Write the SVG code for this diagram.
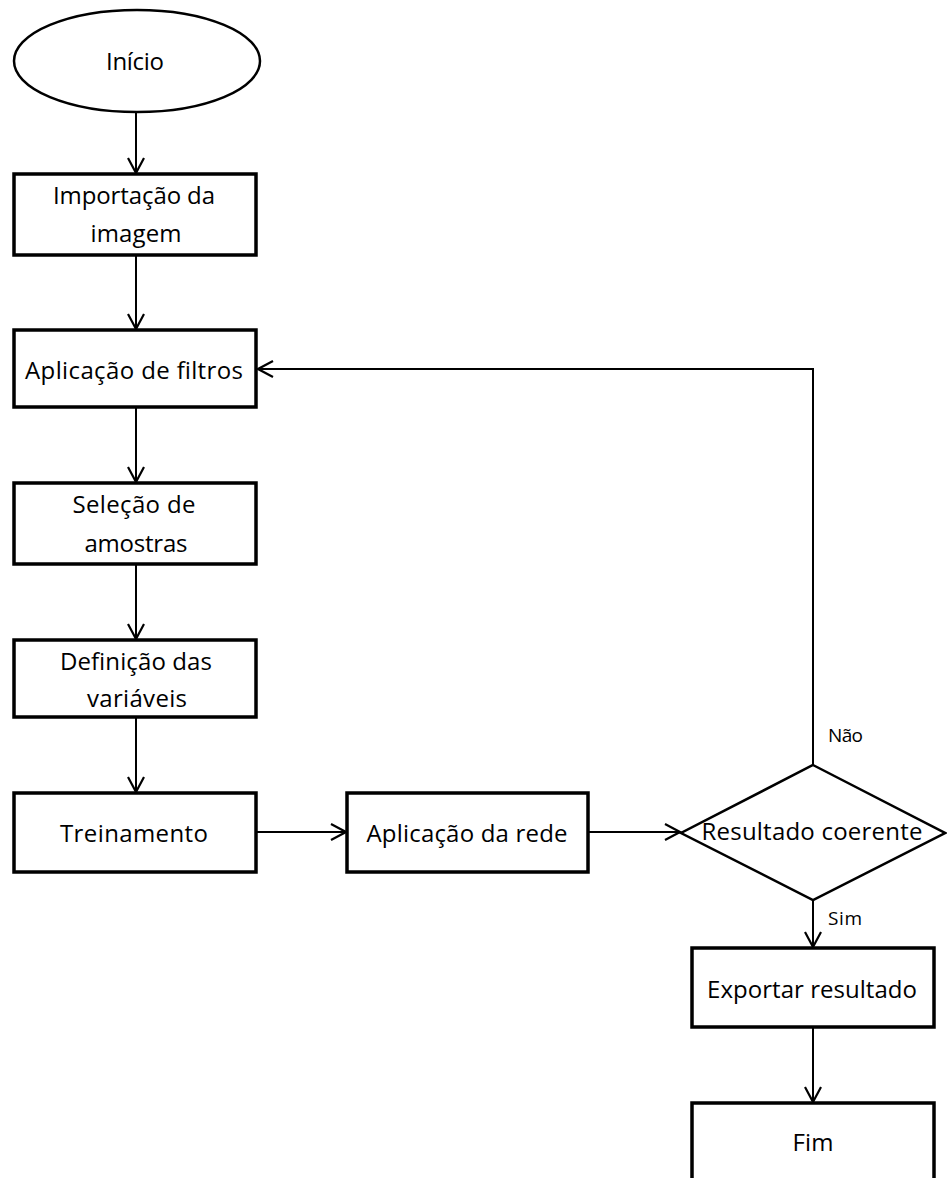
<svg xmlns="http://www.w3.org/2000/svg" width="947" height="1178" viewBox="0 0 947 1178">
<style>
.box{fill:#fff;stroke:#000;stroke-width:3.5}
.shape{fill:#fff;stroke:#000;stroke-width:2.5}
.t{font-family:"Open Sans","Liberation Sans",sans-serif;font-size:24px;fill:#000;text-anchor:middle}
.lbl{font-family:"Open Sans","Liberation Sans",sans-serif;font-size:19px;fill:#000}
.c{fill:none;stroke:#000;stroke-width:2}
</style>
<defs>
<marker id="arr" markerUnits="userSpaceOnUse" viewBox="-17 -10 19 20" refX="0" refY="0" markerWidth="19" markerHeight="20" orient="auto">
<path d="M-15,-8 L0,0 L-15,8" fill="none" stroke="#000" stroke-width="2.2"/>
</marker>
</defs>
<g id="connectors">
<path class="c" d="M136,112 V173" marker-end="url(#arr)"/>
<path class="c" d="M136,256 V329" marker-end="url(#arr)"/>
<path class="c" d="M136,408 V482" marker-end="url(#arr)"/>
<path class="c" d="M136,565 V639" marker-end="url(#arr)"/>
<path class="c" d="M136,718 V792" marker-end="url(#arr)"/>
<path class="c" d="M257,832 H346" marker-end="url(#arr)"/>
<path class="c" d="M589,832 H680" marker-end="url(#arr)"/>
<path class="c" d="M813,765 V369 H258" marker-end="url(#arr)"/>
<path class="c" d="M813,900 V947" marker-end="url(#arr)"/>
<path class="c" d="M813,1028 V1102" marker-end="url(#arr)"/>
</g>
<g id="inicio">
<ellipse class="shape" cx="137" cy="61" rx="123" ry="51"/>
<text class="t" x="135" y="70" textLength="58">Início</text>
</g>
<g id="importacao">
<rect class="box" x="14" y="174" width="242" height="81"/>
<text class="t" x="134" y="204" textLength="162">Importação da</text>
<text class="t" x="136" y="242" textLength="91">imagem</text>
</g>
<g id="filtros">
<rect class="box" x="14" y="330" width="242" height="77"/>
<text class="t" x="134" y="379" textLength="218">Aplicação de filtros</text>
</g>
<g id="selecao">
<rect class="box" x="14" y="483" width="242" height="81"/>
<text class="t" x="134" y="513" textLength="123">Seleção de</text>
<text class="t" x="136" y="552" textLength="103">amostras</text>
</g>
<g id="definicao">
<rect class="box" x="14" y="640" width="242" height="77"/>
<text class="t" x="136" y="670" textLength="152">Definição das</text>
<text class="t" x="137" y="707" textLength="100">variáveis</text>
</g>
<g id="treinamento">
<rect class="box" x="14" y="793" width="242" height="79"/>
<text class="t" x="134" y="842" textLength="148">Treinamento</text>
</g>
<g id="aplicacao-rede">
<rect class="box" x="347" y="793" width="241" height="79"/>
<text class="t" x="467" y="842" textLength="201">Aplicação da rede</text>
</g>
<g id="decisao">
<polygon class="shape" points="813,765 945,833 813,900 681,833"/>
<text class="t" x="812" y="840" textLength="221">Resultado coerente</text>
<text class="lbl" x="828" y="742" textLength="35">Não</text>
<text class="lbl" x="828" y="925" textLength="34">Sim</text>
</g>
<g id="exportar">
<rect class="box" x="692" y="948" width="242" height="79"/>
<text class="t" x="812" y="998" textLength="210">Exportar resultado</text>
</g>
<g id="fim">
<rect class="box" x="692" y="1103" width="242" height="90"/>
<text class="t" x="813" y="1151" textLength="41">Fim</text>
</g>
</svg>
